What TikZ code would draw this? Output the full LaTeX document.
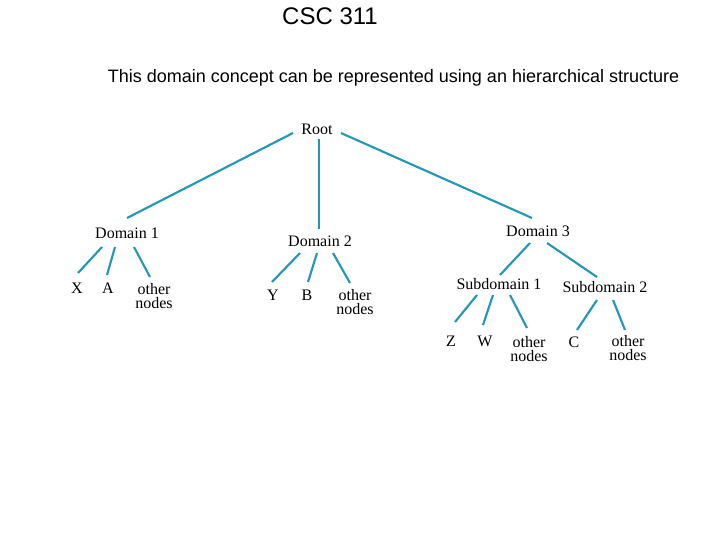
\documentclass[tikz,border=0pt]{standalone}
\usepackage{fontspec}
\setmainfont{Liberation Serif}
\newfontfamily\arialfont{Liberation Sans}
\definecolor{treeteal}{RGB}{35,152,182}
\begin{document}
\begin{tikzpicture}[x=0.75pt,y=-0.75pt,
  lbl/.style={inner sep=0pt,font=\fontsize{12}{11.2}\selectfont,align=center},
  edge/.style={draw=treeteal,line width=1.6pt}]
\useasboundingbox (0,0) rectangle (720,540);
\node[font=\arialfont\fontsize{18}{20}\selectfont] (title) at (330,16) {CSC 311};
\node[font=\arialfont\fontsize{13.5}{15}\selectfont] (sub) at (393.5,78) {This domain concept can be represented using an hierarchical structure};
% labels
\node[lbl] (root) at (317,129) {Root};
\node[lbl] (d1) at (127,233) {Domain 1};
\node[lbl] (d2) at (320,241) {Domain 2};
\node[lbl] (d3) at (538,231) {Domain 3};
\node[lbl] (x) at (77,288) {X};
\node[lbl] (a) at (108,288) {A};
\node[lbl] (o1) at (154,296) {other\\nodes};
\node[lbl] (y) at (273,295) {Y};
\node[lbl] (b) at (307,295) {B};
\node[lbl] (o2) at (355,302) {other\\nodes};
\node[lbl] (s1) at (499,284) {Subdomain 1};
\node[lbl] (s2) at (605,287) {Subdomain 2};
\node[lbl] (z) at (451,341) {Z};
\node[lbl] (w) at (485,341) {W};
\node[lbl] (o3) at (529,349) {other\\nodes};
\node[lbl] (c) at (574,342) {C};
\node[lbl] (o4) at (628,348) {other\\nodes};
% line ends
\coordinate (r1) at (293,133); \coordinate (d1t) at (127,218);
\coordinate (r2) at (319,139); \coordinate (d2t) at (319,229);
\coordinate (r3) at (341,133); \coordinate (d3t) at (532,218);
\coordinate (d1x) at (102,247); \coordinate (xt) at (78,273);
\coordinate (d1a) at (115,247); \coordinate (at) at (107,275);
\coordinate (d1o) at (134,247); \coordinate (o1t) at (150,277);
\coordinate (d2y) at (300,253); \coordinate (yt) at (272,282);
\coordinate (d2b) at (317,253); \coordinate (bt) at (308,282);
\coordinate (d2o) at (333,253); \coordinate (o2t) at (350,283);
\coordinate (d3a) at (530,243); \coordinate (s1t) at (500,275);
\coordinate (d3b) at (547,243); \coordinate (s2t) at (597,277);
\coordinate (s1z) at (477,295); \coordinate (zt) at (455,322);
\coordinate (s1w) at (493,295); \coordinate (wt) at (483,325);
\coordinate (s1o) at (510,295); \coordinate (o3t) at (527,328);
\coordinate (s2c) at (597,300); \coordinate (ct) at (577,330);
\coordinate (s2o) at (613,300); \coordinate (o4t) at (625,330);
\foreach \p/\q in {r1/d1t,r2/d2t,r3/d3t,d1x/xt,d1a/at,d1o/o1t,d2y/yt,d2b/bt,d2o/o2t,d3a/s1t,d3b/s2t,s1z/zt,s1w/wt,s1o/o3t,s2c/ct,s2o/o4t}
  \draw[edge] (\p) -- (\q);
\end{tikzpicture}
\end{document}
